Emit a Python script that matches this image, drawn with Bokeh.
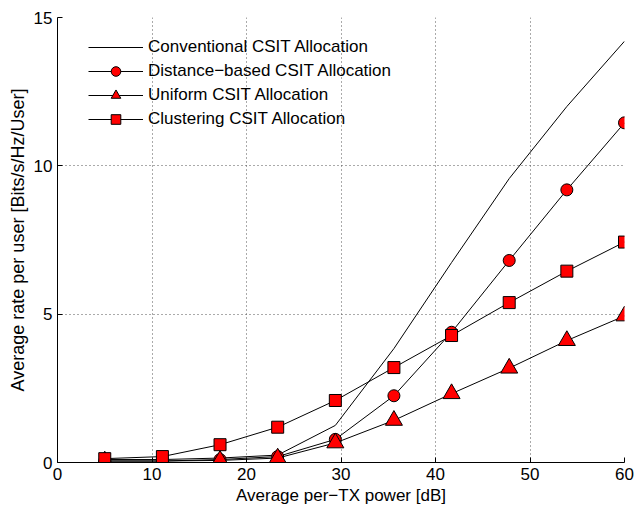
from bokeh.plotting import figure
from bokeh.models import Range1d, Legend, LegendItem, FixedTicker
from bokeh.embed import file_html
from bokeh.resources import INLINE

power_db = [5, 11.1, 17.2, 23.3, 29.4, 35.6, 41.7, 47.8, 53.9, 60]
conventional = [0.10, 0.10, 0.15, 0.25, 1.25, 3.84, 6.74, 9.57, 12.0, 14.2]
distance = [0.05, 0.05, 0.10, 0.20, 0.78, 2.25, 4.39, 6.81, 9.19, 11.45]
uniform = [0.05, 0.05, 0.07, 0.15, 0.66, 1.42, 2.32, 3.18, 4.11, 4.94]
clustering = [0.13, 0.20, 0.60, 1.19, 2.09, 3.20, 4.28, 5.39, 6.45, 7.43]

x_ticks = [0, 10, 20, 30, 40, 50, 60]
y_ticks = [0, 5, 10, 15]

labels = ["Conventional CSIT Allocation", "Distance\u2212based CSIT Allocation",
          "Uniform CSIT Allocation", "Clustering CSIT Allocation"]

FONT = "Liberation Sans"
FS = "17px"

p = figure(width=636, height=508, output_backend="svg", toolbar_location=None,
           x_range=Range1d(0, 60), y_range=Range1d(0, 15),
           min_border_left=57, min_border_right=12, min_border_top=17, min_border_bottom=46)
p.outline_line_color = None
p.background_fill_color = "white"

for ax in (p.xaxis[0], p.yaxis[0]):
    ax.major_label_text_font = FONT
    ax.major_label_text_font_size = FS
    ax.major_label_text_color = "black"
    ax.axis_label_text_font = FONT
    ax.axis_label_text_font_size = FS
    ax.axis_label_text_font_style = "normal"
    ax.axis_label_text_color = "black"
    ax.major_tick_in = 5
    ax.major_tick_out = 0
    ax.minor_tick_in = 0
    ax.minor_tick_out = 0
    ax.axis_line_color = "black"
    ax.major_tick_line_color = "black"

p.yaxis.axis_label_text_font_size = "18px"
p.xaxis.ticker = FixedTicker(ticks=x_ticks)
p.yaxis.ticker = FixedTicker(ticks=y_ticks)
p.xaxis.axis_label = "Average per\u2212TX power [dB]"
p.yaxis.axis_label = "Average rate per user [Bits/s/Hz/User]"
p.xaxis.major_label_standoff = 5
p.xaxis.axis_label_standoff = 3
p.yaxis.major_label_standoff = 5
p.yaxis.axis_label_standoff = 3

p.grid.grid_line_color = "#555555"
p.grid.grid_line_dash = "1 3"
p.grid.grid_line_width = 1
p.xgrid.ticker = FixedTicker(ticks=x_ticks[1:])
p.ygrid.ticker = FixedTicker(ticks=y_ticks[1:])

r_conv = p.line(power_db, conventional, line_color="black", line_width=1)

r_dist_l = p.line(power_db, distance, line_color="black", line_width=1)
r_dist_m = p.scatter(power_db, distance, marker="circle", size=12,
                     fill_color="#ff0000", line_color="black", line_width=1)

r_uni_l = p.line(power_db, uniform, line_color="black", line_width=1)
r_uni_m = p.scatter(power_db, uniform, marker="triangle", size=17,
                    fill_color="#ff0000", line_color="black", line_width=1)

r_clu_l = p.line(power_db, clustering, line_color="black", line_width=1)
r_clu_m = p.scatter(power_db, clustering, marker="square", size=12,
                    fill_color="#ff0000", line_color="black", line_width=1)

legend = Legend(items=[
    LegendItem(label=labels[0], renderers=[r_conv]),
    LegendItem(label=labels[1], renderers=[r_dist_l, r_dist_m]),
    LegendItem(label=labels[2], renderers=[r_uni_l, r_uni_m]),
    LegendItem(label=labels[3], renderers=[r_clu_l, r_clu_m]),
], location=(31, 331))
legend.border_line_color = None
legend.background_fill_alpha = 0
legend.padding = 0
legend.margin = 0
legend.spacing = 0
legend.glyph_width = 55
legend.glyph_height = 24
legend.label_height = 24
legend.label_standoff = 5
legend.label_text_font = FONT
legend.label_text_font_size = FS
legend.label_text_color = "black"
p.add_layout(legend, "center")

open("out.html", "w").write(file_html(p, INLINE))
